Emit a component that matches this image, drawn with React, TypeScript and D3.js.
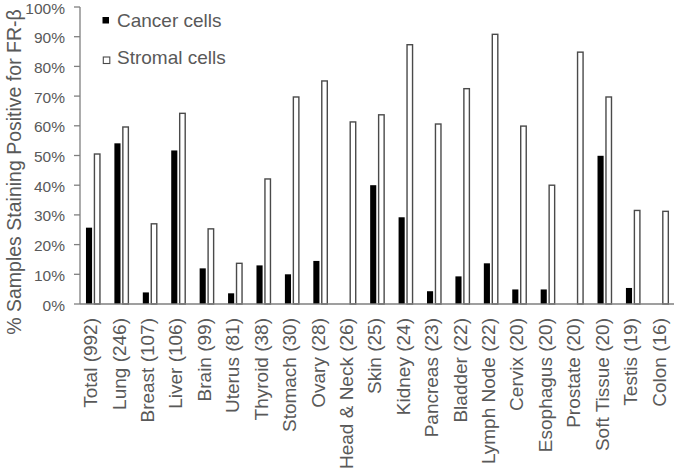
import React from "react";
import * as d3 from "d3";

const categories = [
  "Total (992)", "Lung (246)", "Breast (107)", "Liver (106)", "Brain (99)",
  "Uterus (81)", "Thyroid (38)", "Stomach (30)", "Ovary (28)", "Head & Neck (26)",
  "Skin (25)", "Kidney (24)", "Pancreas (23)", "Bladder (22)", "Lymph Node (22)",
  "Cervix (20)", "Esophagus (20)", "Prostate (20)", "Soft Tissue (20)", "Testis (19)",
  "Colon (16)",
];
const cancerCells = [
  0.257, 0.541, 0.039, 0.517, 0.12, 0.036, 0.13, 0.10, 0.145, 0.0,
  0.40, 0.292, 0.043, 0.093, 0.137, 0.049, 0.049, 0.0, 0.499, 0.054, 0.0,
];
const stromalCells = [
  0.505, 0.596, 0.27, 0.642, 0.253, 0.137, 0.421, 0.697, 0.751, 0.613,
  0.637, 0.873, 0.606, 0.725, 0.908, 0.599, 0.40, 0.848, 0.697, 0.315, 0.312,
];
const seriesNames = ["Cancer cells", "Stromal cells"];
const yTicks = [0, 0.1, 0.2, 0.3, 0.4, 0.5, 0.6, 0.7, 0.8, 0.9, 1.0];

const W = 676;
const H = 470;
const TEXT = "#595959";
const FONT = "'Liberation Sans', Arial, sans-serif";

export default function App() {
  const x0 = d3.scaleBand<string>().domain(categories).range([80, 676.8]).paddingInner(0).paddingOuter(0);
  const bw = x0.bandwidth();
  const x1 = d3.scaleBand<string>().domain(seriesNames).range([bw * 0.21, bw * 0.73]).paddingInner(0.12);
  const y = d3.scaleLinear().domain([0, 1]).range([304, 7]);
  const fmt = d3.format(".0%");
  const ib = x1.bandwidth();

  return (
    <svg width={W} height={H} style={{ position: "absolute", left: 0, top: 0, background: "#fff" }} fontFamily={FONT}>
      {/* y title */}
      <text transform={`translate(21,172) rotate(-90)`} textAnchor="middle" fontSize={19.5} fill={TEXT}>
        % Samples Staining Positive for FR-β
      </text>
      {/* y axis */}
      <line x1={80} x2={80} y1={y(1)} y2={y(0)} stroke="#7f7f7f" strokeWidth={1.3} />
      {yTicks.map((t) => (
        <g key={t}>
          <line x1={74} x2={80} y1={y(t)} y2={y(t)} stroke="#7f7f7f" strokeWidth={1.3} />
          <text x={65} y={y(t)} dy="0.42em" textAnchor="end" fontSize={15.5} fill={TEXT}>
            {fmt(t)}
          </text>
        </g>
      ))}
      {/* bars */}
      {categories.map((c, i) => {
        const bx = x0(c)!;
        const cx = bx + x1(seriesNames[0])!;
        const sx = bx + x1(seriesNames[1])!;
        return (
          <g key={c}>
            {cancerCells[i] > 0 && (
              <rect x={cx} y={y(cancerCells[i])} width={ib - 0.8} height={y(0) - y(cancerCells[i])} fill="#000" />
            )}
            <rect
              x={sx + 0.6}
              y={y(stromalCells[i])}
              width={ib - 1.4}
              height={y(0) - y(stromalCells[i])}
              fill="#fff"
              stroke="#4a4a4a"
              strokeWidth={1.4}
            />
          </g>
        );
      })}
      {/* x axis */}
      <line x1={80} x2={674} y1={y(0)} y2={y(0)} stroke="#7f7f7f" strokeWidth={1.3} />
      {categories.map((c) => (
        <text
          key={c}
          transform={`translate(${x0(c)! + bw / 2 + 3},318) rotate(-90)`}
          textAnchor="end"
          fontSize={19}
          fill={TEXT}
        >
          {c}
        </text>
      ))}
      {/* legend */}
      <rect x={102.5} y={17} width={6.5} height={6.5} fill="#000" />
      <text x={117} y={26.7} fontSize={19} fill={TEXT}>{seriesNames[0]}</text>
      <rect x={103.3} y={57} width={6.5} height={6.5} fill="#fff" stroke="#4a4a4a" strokeWidth={1.1} />
      <text x={117} y={64.3} fontSize={19} fill={TEXT}>{seriesNames[1]}</text>
    </svg>
  );
}
